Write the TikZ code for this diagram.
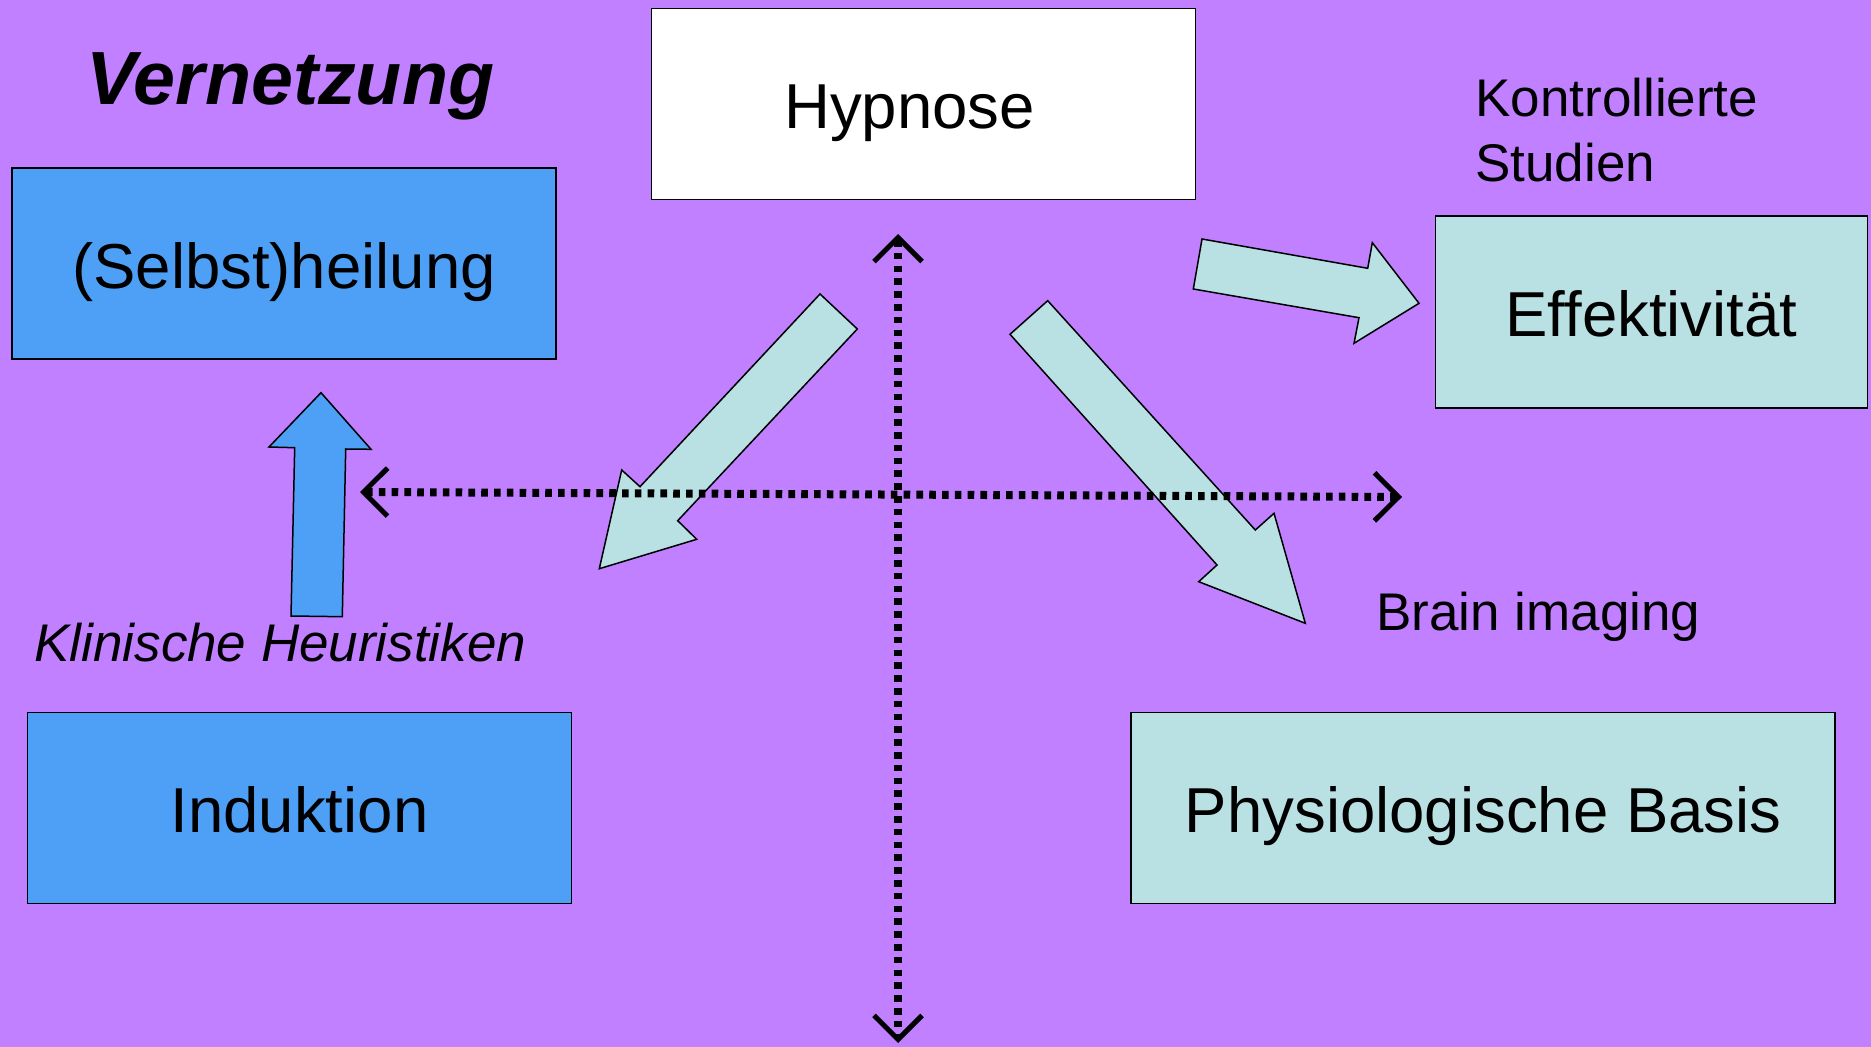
\documentclass[tikz,border=0pt]{standalone}
\usepackage{fontspec}
\setmainfont{Liberation Sans}
\usetikzlibrary{arrows.meta}
\definecolor{bgpurple}{RGB}{192,128,255}
\definecolor{boxblue}{RGB}{77,160,245}
\definecolor{boxcyan}{RGB}{185,224,227}
\tikzset{
  box/.style={draw=black, line width=0.75pt, inner sep=0pt,
    text height=25pt, text depth=0pt,
    font=\fontsize{31.75}{38}\selectfont},
  smalltext/.style={inner sep=0pt, align=left,
    font=\fontsize{26.5}{32.5}\selectfont},
  blockarrow/.style={draw=black, line width=0.75pt, line join=miter},
  axis/.style={line width=4pt, dash pattern=on 3.3pt off 3.1pt,
    {Straight Barb[length=12pt,width=24pt,line width=2.5pt]}-{Straight Barb[length=12pt,width=24pt,line width=2.5pt]}}
}
\begin{document}
\begin{tikzpicture}[x=0.5pt,y=-0.5pt]
            \fill[bgpurple] (0,0) rectangle (1871,1047);
            \useasboundingbox (0,0) rectangle (1871,1047);

            %Nodes
            \node[box, fill=white, minimum width=272pt, minimum height=95.5pt] at (923.5,103.9) (hyp) {Hypnose\hspace*{14pt}};
            \node[box, fill=boxblue, minimum width=272pt, minimum height=95.5pt] at (284,263.7) (heil) {(Selbst)heilung};
            \node[box, fill=boxcyan, minimum width=216pt, minimum height=96pt] at (1651.4,312) (eff) {Effektivität};
            \node[box, fill=boxblue, minimum width=272pt, minimum height=95.5pt] at (299.5,807.9) (ind) {Induktion};
            \node[box, fill=boxcyan, minimum width=352pt, minimum height=95.5pt] at (1483.2,807.9) (phys) {Physiologische Basis};

            \node[inner sep=0pt, anchor=base west, font=\fontsize{37.7}{45}\selectfont\bfseries\itshape] at (86,105) (vern) {Vernetzung};
            \node[smalltext, anchor=base west] at (1475,181.7) (kontr) {Kontrollierte\\Studien};
            \node[smalltext, anchor=base west] at (1376,630) (brain) {Brain imaging};
            \node[smalltext, anchor=base west, font=\fontsize{26.5}{32.5}\selectfont\itshape] at (34,661.7) (klin) {Klinische Heuristiken};

            %Block arrows
            \draw[blockarrow, fill=boxcyan] (820,294) -- (857.3,329) -- (677.7,520.7) -- (696.7,539.3)
              -- (599.3,568.7) -- (621.7,470) -- (640,486.7) -- cycle;
            \draw[blockarrow, fill=boxcyan] (1202,239) -- (1367.7,268.3) -- (1372.3,242.7) -- (1419,303.3)
              -- (1354,343.3) -- (1359,317.7) -- (1193.3,289) -- cycle;
            \draw[blockarrow, fill=boxcyan] (1047.7,300.7) -- (1255.3,530) -- (1274,513.3) -- (1305.3,623.3)
              -- (1198.7,581.7) -- (1217,565) -- (1010,334.3) -- cycle;
            \draw[blockarrow, fill=boxblue] (321,392.7) -- (371,449.3) -- (345.7,449) -- (342.3,616.7)
              -- (291,616) -- (294.7,447.7) -- (269,447) -- cycle;

            %Axes
            \coordinate (top)    at (898,234);
            \coordinate (bottom) at (898,1043);
            \coordinate (left)   at (360,492);
            \coordinate (right)  at (1402,497);
            \draw[axis] (top) -- (bottom);
            \draw[axis] (left) -- (right);
        \end{tikzpicture}
\end{document}
